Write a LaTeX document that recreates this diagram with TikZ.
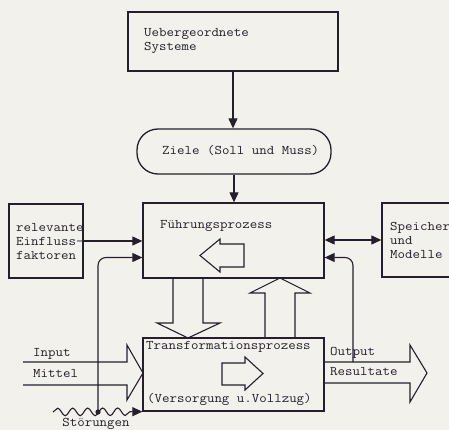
\documentclass[tikz,border=0pt]{standalone}
\usepackage{fontspec}
\setmonofont[FakeStretch=1.1]{Latin Modern Mono}
\usetikzlibrary{arrows.meta,decorations.pathmorphing,calc}
\definecolor{paper}{RGB}{243,241,236}
\definecolor{ink}{RGB}{38,30,44}
\begin{document}
\begin{tikzpicture}[x=1pt,y=-1pt,
  every node/.style={font=\ttfamily\fontsize{13.2}{14}\selectfont, text=ink},
  box/.style={draw=ink, line width=1.3pt, rectangle, inner sep=0pt},
  lbl/.style={anchor=west, inner sep=0pt, text height=8pt, text depth=2.5pt},
  mlbl/.style={anchor=west, inner sep=0pt, align=left},
  conn/.style={draw=ink, line width=1.1pt, -{Triangle[length=10pt,width=9pt]}},
  hollow/.style={draw=ink, line width=1.1pt, line join=miter}]
\fill[paper] (0,0) rectangle (449,430);
\useasboundingbox (0,0) rectangle (449,430);

% boxes
\node[box, minimum width=210pt, minimum height=59pt] (top) at (233,41.5) {};
\node[mlbl] (toptxt) at (144,41) {Uebergeordnete\\Systeme};
\node[box, rounded corners=21pt, minimum width=194pt, minimum height=45pt] (ziele) at (234,151.5) {};
\node[lbl] (zieletxt) at (162,152) {Ziele (Soll und Muss)};
\node[box, minimum width=181pt, minimum height=75pt] (fuhr) at (233.5,240.5) {};
\node[lbl] (fuhrtxt) at (160,226) {Führungsprozess};
\node[box, minimum width=74pt, minimum height=74pt] (einfl) at (46,241) {};
\node[mlbl] (einfltxt) at (16,242) {relevante\\Einfluss-\\faktoren};
\node[box, minimum width=80pt, minimum height=74pt] (speich) at (422,240) {};
\node[mlbl] (speichtxt) at (390,240) {Speicher\\und\\Modelle};
\node[box, minimum width=181pt, minimum height=73pt] (trans) at (233.5,374.5) {};
\node[lbl] (transtxt) at (146,347) {Transformationsprozess};
\node[lbl] (verstxt) at (147,400) {(Versorgung u.Vollzug)};

% labels of in/out
\node[lbl] (inp) at (33,354) {Input};
\node[lbl] (mit) at (33,375) {Mittel};
\node[lbl] (outp) at (330,353) {Output};
\node[lbl] (res) at (330,373) {Resultate};
\node[anchor=base, inner sep=0pt] (stoer) at (96,426.5) {Störungen};

% connectors
\draw[conn] (top.south) -- (top.south |- ziele.north);
\draw[conn] (ziele.south) -- (ziele.south |- fuhr.north);
\draw[conn] (einfl.east) -- (einfl.east -| fuhr.west);
\draw[draw=ink, line width=1.1pt, {Triangle[length=10pt,width=9pt]}-{Triangle[length=10pt,width=9pt]}]
  (speich.west -| fuhr.east) -- (speich.west);

\coordinate (dist) at (98,412);
\coordinate (outtap) at (353,362);
\draw[conn, rounded corners=8pt] (dist) |- ($(fuhr.west)+(0,17)$);
\draw[conn, rounded corners=8pt] (outtap) |- ($(fuhr.east)+(0,17)$);
\fill[ink] (dist) circle (2.6pt);

% disturbance
\draw[conn, decorate, decoration={snake, segment length=15pt, amplitude=3.8pt, post length=9pt}]
  (53,412) -- (trans.south west);

% hollow arrows between boxes
\draw[hollow] (173,278) -- (173,323) -- (157,323) -- (188,338) -- (220,323) -- (203,323) -- (203,278);
\draw[hollow] (265,338) -- (265,293) -- (250,293) -- (280,278) -- (310,293) -- (295,293) -- (295,338);

% input and output arrows
\draw[hollow] (23,362) -- (127,362) -- (127,345) -- (143,373) -- (127,400) -- (127,385) -- (23,385);
\draw[hollow] (324,362) -- (410,362) -- (410,345) -- (427,373) -- (410,402) -- (410,383) -- (324,383);

% inner arrows
\draw[hollow] (200,255.5) -- (220,239) -- (220,244) -- (244,244) -- (244,267) -- (220,267) -- (220,272) -- cycle;
\draw[hollow] (263,373.5) -- (245,357) -- (245,363) -- (222,363) -- (222,385) -- (245,385) -- (245,390) -- cycle;
\end{tikzpicture}
\end{document}
